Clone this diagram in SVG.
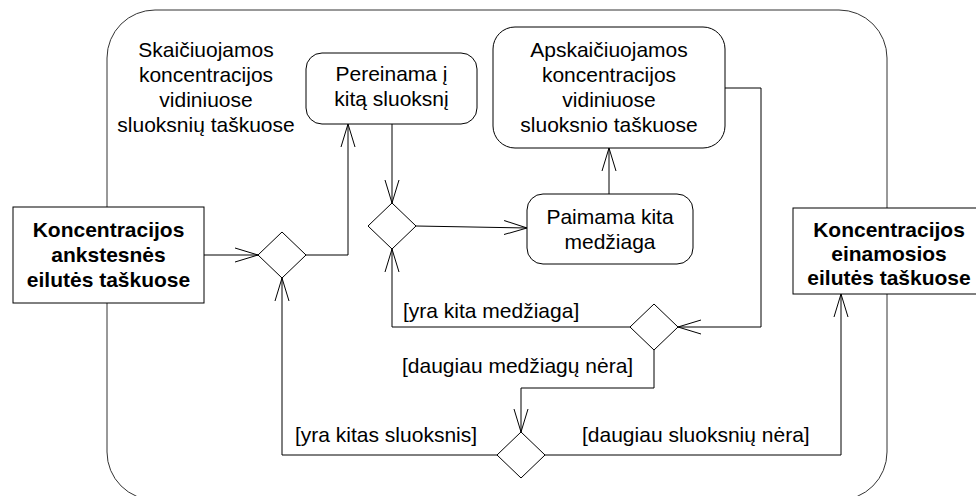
<svg xmlns="http://www.w3.org/2000/svg" width="976" height="496" viewBox="0 0 976 496">
<defs>
<marker id="arr" markerUnits="userSpaceOnUse" markerWidth="26" markerHeight="18" refX="23" refY="8" orient="auto" viewBox="0 0 26 18">
<path d="M0,1 L23,8 L0,15" fill="none" stroke="#000" stroke-width="1"/>
</marker>
<style>
text{font-family:"Liberation Sans",Arial,sans-serif;font-size:21px;fill:#000;text-anchor:middle}
.b{font-weight:bold}
.l{text-anchor:start}
.node{fill:#fff;stroke:#000;stroke-width:1}
.dia{fill:#fff;stroke:#000;stroke-width:1}
.c{fill:none;stroke:#000;stroke-width:1}
</style>
</defs>
<rect x="0" y="0" width="976" height="496" fill="#fff"/>
<g id="outer">
<rect x="107" y="10" width="780" height="490" rx="48" ry="48" fill="none" stroke="#333" stroke-width="1"/>
<text x="206" y="57">Skaičiuojamos</text>
<text x="206" y="82">koncentracijos</text>
<text x="206" y="107">vidiniuose</text>
<text x="206" y="132">sluoksnių taškuose</text>
</g>
<g id="connectors">
<path class="c" d="M204,255 L258,255" marker-end="url(#arr)"/>
<path class="c" d="M306,255 L348,255 L348,124" marker-end="url(#arr)"/>
<path class="c" d="M392,124 L392,203" marker-end="url(#arr)"/>
<path class="c" d="M416,226 L527,228" marker-end="url(#arr)"/>
<path class="c" d="M609,194 L609,148" marker-end="url(#arr)"/>
<path class="c" d="M725,88 L761,88 L761,327 L678,327" marker-end="url(#arr)"/>
<path class="c" d="M630,327 L392,327 L392,249" marker-end="url(#arr)"/>
<path class="c" d="M654,350 L654,388 L521,388 L521,432" marker-end="url(#arr)"/>
<path class="c" d="M497,455 L282,455 L282,278" marker-end="url(#arr)"/>
<path class="c" d="M545,455 L841,455 L841,294" marker-end="url(#arr)"/>
<text class="l" x="403" y="318">[yra kita medžiaga]</text>
<text class="l" x="402" y="373">[daugiau medžiagų nėra]</text>
<text class="l" x="295" y="442">[yra kitas sluoksnis]</text>
<text class="l" x="582" y="442">[daugiau sluoksnių nėra]</text>
</g>
<g id="prev">
<rect class="node" x="13" y="207" width="191" height="96"/>
<text class="b" x="108.5" y="237">Koncentracijos</text>
<text class="b" x="108.5" y="262">ankstesnės</text>
<text class="b" x="108.5" y="287">eilutės taškuose</text>
</g>
<g id="curr">
<rect class="node" x="793" y="208" width="191" height="86"/>
<text class="b" x="889" y="237">Koncentracijos</text>
<text class="b" x="889" y="261">einamosios</text>
<text class="b" x="889" y="285">eilutės taškuose</text>
</g>
<g id="pereinama">
<rect class="node" x="306" y="53" width="171" height="71" rx="16"/>
<text x="391.5" y="81">Pereinama į</text>
<text x="391.5" y="106">kitą sluoksnį</text>
</g>
<g id="paimama">
<rect class="node" x="527" y="194" width="166" height="70" rx="16"/>
<text x="610" y="224">Paimama kita</text>
<text x="610" y="249">medžiaga</text>
</g>
<g id="apskaiciuojamos">
<rect class="node" x="493" y="27" width="232" height="121" rx="22"/>
<text x="609" y="57">Apskaičiuojamos</text>
<text x="609" y="82">koncentracijos</text>
<text x="609" y="107">vidiniuose</text>
<text x="609" y="132">sluoksnio taškuose</text>
</g>
<g id="d1"><path class="dia" d="M282,232 L306,255 L282,278 L258,255 Z"/></g>
<g id="d2"><path class="dia" d="M392,203 L416,226 L392,249 L368,226 Z"/></g>
<g id="d3"><path class="dia" d="M654,304 L678,327 L654,350 L630,327 Z"/></g>
<g id="d4"><path class="dia" d="M521,432 L545,455 L521,478 L497,455 Z"/></g>
</svg>
